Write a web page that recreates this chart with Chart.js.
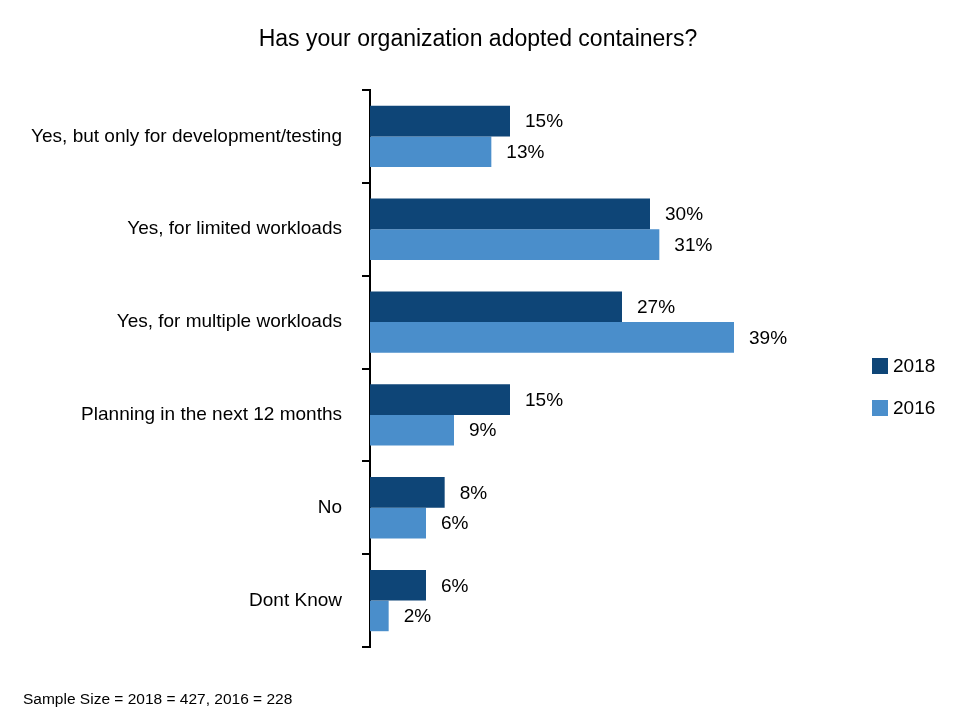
<!DOCTYPE html>
<html>
<head>
<meta charset="utf-8">
<script src="https://cdn.jsdelivr.net/npm/chart.js@4"></script>
<style>
  body { margin: 0; background: #fff; }
  #wrap { width: 955px; height: 714px; }
</style>
</head>
<body>
<div id="wrap"><canvas id="graph1"></canvas></div>
<script>
// categories and values
var categories = [
    'Yes, but only for development/testing',
    'Yes, for limited workloads',
    'Yes, for multiple workloads',
    'Planning in the next 12 months',
    'No',
    'Dont Know'
]
var values2018 = [15, 30, 27, 15, 8, 6]
var values2016 = [13, 31, 39, 9, 6, 2]
var seriesNames = ['2018', '2016']
var colors = ['#0E4577', '#4A8ECB']

var titleText = 'Has your organization adopted containers?'
var footerText = 'Sample Size = 2018 = 427, 2016 = 228'
var fontFamily = '"Liberation Sans", Arial, sans-serif'

// title, footer, value labels and legend
var extras = {
    id: 'extras',
    afterDatasetsDraw: function (chart) {
        var c = chart.ctx
        c.save()
        c.fillStyle = '#000'
        c.textBaseline = 'middle'

        c.font = '23px ' + fontFamily
        c.textAlign = 'center'
        c.fillText(titleText, 478, 40)

        c.font = '15.5px ' + fontFamily
        c.textAlign = 'left'
        c.fillText(footerText, 23, 700)

        // value labels
        c.font = '19px ' + fontFamily
        chart.data.datasets.forEach(function (ds, i) {
            chart.getDatasetMeta(i).data.forEach(function (bar, j) {
                c.fillText(ds.data[j] + '%', bar.x + 15, bar.y + 1)
            })
        })

        // legend
        chart.data.datasets.forEach(function (ds, i) {
            var y = 366 + i * 42
            c.fillStyle = ds.backgroundColor
            c.fillRect(872, y - 8, 16, 16)
            c.fillStyle = '#000'
            c.font = '19px ' + fontFamily
            c.fillText(ds.label, 893, y + 1)
        })
        c.restore()
    }
}

var ctx = document.getElementById('graph1').getContext('2d')
var data = {
    labels: categories,
    datasets: [
        { label: seriesNames[0], backgroundColor: colors[0], data: values2018 },
        { label: seriesNames[1], backgroundColor: colors[1], data: values2016 }
    ]
}

var options = {
    indexAxis: 'y',
    responsive: true,
    maintainAspectRatio: false,
    animation: false,
    layout: { padding: { top: 90, right: 165, bottom: 67, left: 0 } },
    datasets: { bar: { categoryPercentage: 0.66, barPercentage: 1.0 } },
    plugins: {
        legend: { display: false },
        tooltip: { enabled: false }
    },
    scales: {
        x: { display: false, min: 0, max: 45 },
        y: {
            offset: true,
            afterFit: function (scale) { scale.width = 370 },
            border: { display: true, color: '#000', width: 2 },
            grid: {
                offset: true,
                drawOnChartArea: false,
                color: '#000',
                lineWidth: 2,
                tickLength: 8
            },
            ticks: {
                color: '#000',
                padding: 20,
                font: { family: fontFamily, size: 19 }
            }
        }
    }
}

var config = {
    type: 'bar',
    data: data,
    options: options,
    plugins: [extras]
}

var graph1 = new Chart(ctx, config)
</script>
</body>
</html>
